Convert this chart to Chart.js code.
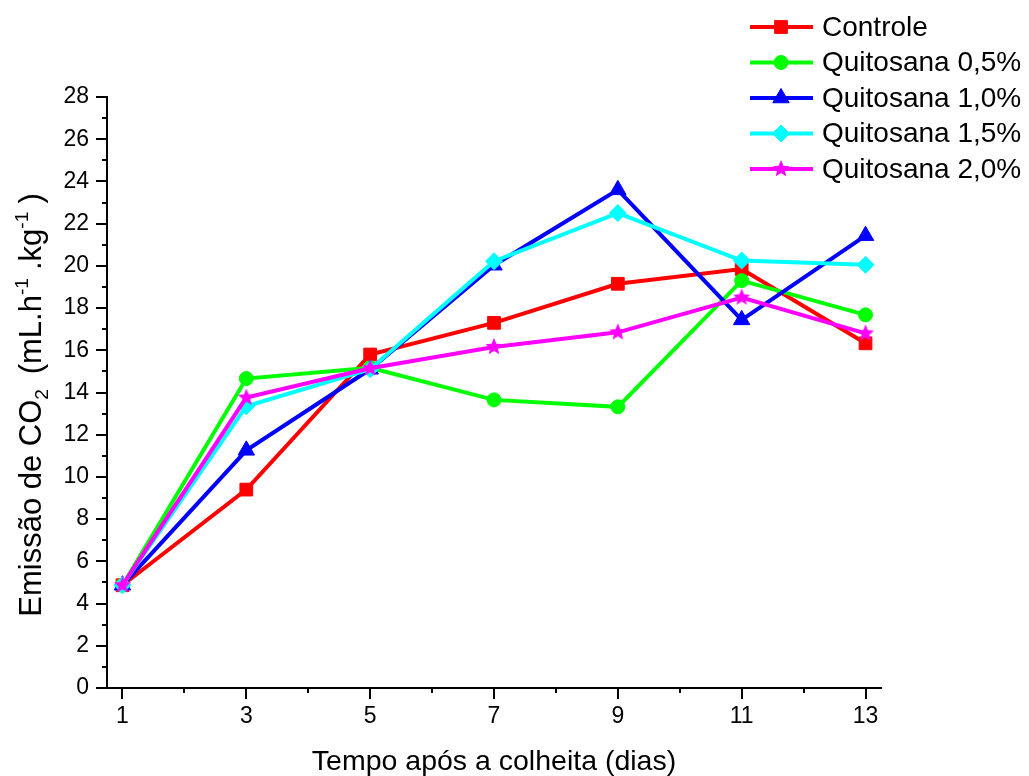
<!DOCTYPE html>
<html>
<head>
<meta charset="utf-8">
<title>Emissão de CO2</title>
<script src="https://cdn.jsdelivr.net/npm/chart.js@4.4.1/dist/chart.umd.min.js"></script>
<style>
  html, body { margin: 0; padding: 0; background: #fff; }
  #wrap { position: relative; width: 1029px; height: 776px; }
</style>
</head>
<body>
<div id="wrap"><canvas id="co2Chart"></canvas></div>
<script>
/* ===== DATA ===== */
const days = [1, 3, 5, 7, 9, 11, 13];

const controle = [4.87, 9.4, 15.8, 17.3, 19.15, 19.85, 16.33];
const quitosana05 = [4.87, 14.66, 15.17, 13.65, 13.32, 19.3, 17.68];
const quitosana10 = [4.87, 11.26, 15.1, 20.03, 23.6, 17.44, 21.43];
const quitosana15 = [4.87, 13.35, 15.1, 20.22, 22.5, 20.25, 20.05];
const quitosana20 = [4.87, 13.76, 15.15, 16.16, 16.85, 18.5, 16.8];

const xTicks = [1, 2, 3, 4, 5, 6, 7, 8, 9, 10, 11, 12, 13];
const xTickLabels = [1, 3, 5, 7, 9, 11, 13];
const yTicks = [0, 1, 2, 3, 4, 5, 6, 7, 8, 9, 10, 11, 12, 13, 14, 15, 16, 17, 18, 19, 20, 21, 22, 23, 24, 25, 26, 27, 28];
const yTickLabels = [0, 2, 4, 6, 8, 10, 12, 14, 16, 18, 20, 22, 24, 26, 28];

const FONT = "'Liberation Sans', Arial, sans-serif";

/* ===== STAR MARKER ===== */
function makeStar(color, outer, inner) {
    const c = document.createElement('canvas');
    const s = Math.ceil(outer * 2 + 2);
    c.width = s; c.height = s;
    const g = c.getContext('2d');
    g.translate(s / 2, s / 2);
    g.beginPath();
    for (let i = 0; i < 10; i++) {
        const r = i % 2 === 0 ? outer : inner;
        const a = -Math.PI / 2 + i * Math.PI / 5;
        g.lineTo(Math.cos(a) * r, Math.sin(a) * r);
    }
    g.closePath();
    g.fillStyle = color;
    g.fill();
    return c;
}
const starMagenta = makeStar('#ff00ff', 9, 4);

/* ===== SERIES ===== */
const series = [
    { label: 'Controle',       data: controle,    color: '#ff0000', style: 'rect',     radius: 9 },
    { label: 'Quitosana 0,5%', data: quitosana05, color: '#00ff00', style: 'circle',   radius: 7 },
    { label: 'Quitosana 1,0%', data: quitosana10, color: '#0000ff', style: 'triangle', radius: 9.5 },
    { label: 'Quitosana 1,5%', data: quitosana15, color: '#00ffff', style: 'rectRot',  radius: 8.5 },
    { label: 'Quitosana 2,0%', data: quitosana20, color: '#ff00ff', style: starMagenta, radius: 9 },
];

const datasets = series.map((s, i) => ({
    label: s.label,
    data: days.map((d, j) => ({ x: d, y: s.data[j] })),
    borderColor: s.color,
    backgroundColor: s.color,
    borderWidth: 4,
    pointStyle: s.style,
    pointRadius: s.radius,
    pointHoverRadius: s.radius,
    pointBorderWidth: 1,
    pointBackgroundColor: s.color,
    pointBorderColor: s.color,
    tension: 0,
    order: series.length - i   // later series drawn on top
}));

/* ===== TICK MARKS (major / minor) ===== */
const tickMarks = {
    id: 'tickMarks',
    afterDraw(chart) {
        const ctx = chart.ctx;
        const a = chart.chartArea;
        const xs = chart.scales.x, ys = chart.scales.y;
        ctx.save();
        ctx.strokeStyle = '#000';
        ctx.lineWidth = 2;
        ctx.beginPath();
        xTicks.forEach(v => {
            const px = Math.round(xs.getPixelForValue(v));
            const len = xTickLabels.includes(v) ? 11 : 5;
            ctx.moveTo(px, a.bottom);
            ctx.lineTo(px, a.bottom + len);
        });
        yTicks.forEach(v => {
            const py = Math.round(ys.getPixelForValue(v));
            const len = yTickLabels.includes(v) ? 11 : 5;
            ctx.moveTo(a.left, py);
            ctx.lineTo(a.left - len, py);
        });
        ctx.stroke();
        ctx.restore();
    }
};

/* ===== AXIS TITLES (with sub / superscripts) ===== */
function drawRich(ctx, parts, x, y, size) {
    parts.forEach(p => {
        const fs = p.s ? size * 0.62 : size;
        ctx.font = fs + 'px ' + FONT;
        const dy = p.s === 'sub' ? size * 0.22 : p.s === 'sup' ? -size * 0.42 : 0;
        ctx.fillText(p.t, x, y + dy);
        x += ctx.measureText(p.t).width + (p.gap || 0);
    });
}
function richWidth(ctx, parts, size) {
    let w = 0;
    parts.forEach(p => {
        ctx.font = (p.s ? size * 0.62 : size) + 'px ' + FONT;
        w += ctx.measureText(p.t).width + (p.gap || 0);
    });
    return w;
}

const yTitle = [
    { t: 'Emissão de CO' },
    { t: '2', s: 'sub', gap: 6 },
    { t: ' (mL.h' },
    { t: '-1', s: 'sup', gap: 8 },
    { t: '.kg' },
    { t: '-1', s: 'sup', gap: 8 },
    { t: ')' }
];

const axisTitles = {
    id: 'axisTitles',
    afterDraw(chart) {
        const ctx = chart.ctx;
        const a = chart.chartArea;
        ctx.save();
        ctx.fillStyle = '#000';
        ctx.textBaseline = 'alphabetic';
        ctx.textAlign = 'left';

        // x axis title
        ctx.font = '28.5px ' + FONT;
        const xt = 'Tempo após a colheita (dias)';
        const xw = ctx.measureText(xt).width;
        ctx.fillText(xt, (a.left + a.right) / 2 - xw / 2, 770);

        // y axis title, rotated
        const size = 31;
        const w = richWidth(ctx, yTitle, size);
        ctx.translate(41, 405);
        ctx.rotate(-Math.PI / 2);
        drawRich(ctx, yTitle, -w / 2, 0, size);
        ctx.restore();
    }
};

/* ===== LEGEND ===== */
const sideLegend = {
    id: 'sideLegend',
    afterDraw(chart) {
        const ctx = chart.ctx;
        ctx.save();
        series.forEach((s, i) => {
            const y = 27 + i * 35.5;
            ctx.strokeStyle = s.color;
            ctx.lineWidth = 4;
            ctx.beginPath();
            ctx.moveTo(750, y);
            ctx.lineTo(813, y);
            ctx.stroke();

            ctx.fillStyle = s.color;
            ctx.strokeStyle = s.color;
            ctx.lineWidth = 1;
            Chart.helpers.drawPoint(ctx, { pointStyle: s.style, radius: s.radius, borderWidth: 1, rotation: 0 }, 781, y);

            ctx.fillStyle = '#000';
            ctx.font = '28px ' + FONT;
            ctx.textBaseline = 'middle';
            ctx.textAlign = 'left';
            ctx.fillText(s.label, 822, y + 1);
        });
        ctx.restore();
    }
};

/* ===== CHART ===== */
const ctx = document.getElementById('co2Chart').getContext('2d');

const co2Chart = new Chart(ctx, {
    type: 'line',
    data: { datasets: datasets },
    options: {
        responsive: true,
        maintainAspectRatio: false,
        animation: false,
        events: [],
        layout: { padding: { top: 97, right: 148, left: 0, bottom: 0 } },
        plugins: {
            legend: { display: false },
            tooltip: { enabled: false },
            title: { display: false }
        },
        scales: {
            x: {
                type: 'linear',
                min: 0.75,
                max: 13.25,
                afterBuildTicks: s => { s.ticks = xTicks.map(v => ({ value: v })); },
                afterFit: s => { s.height = 88; },
                grid: { display: false, drawTicks: false },
                border: { display: true, color: '#000', width: 2 },
                ticks: {
                    autoSkip: false,
                    maxRotation: 0,
                    padding: 15,
                    color: '#000',
                    font: { family: FONT, size: 23 },
                    callback: v => xTickLabels.includes(v) ? String(v) : ''
                }
            },
            y: {
                type: 'linear',
                min: 0,
                max: 28,
                afterBuildTicks: s => { s.ticks = yTicks.map(v => ({ value: v })); },
                afterFit: s => { s.width = 107; },
                grid: { display: false, drawTicks: false },
                border: { display: true, color: '#000', width: 2 },
                ticks: {
                    autoSkip: false,
                    padding: 18,
                    color: '#000',
                    font: { family: FONT, size: 23 },
                    callback: v => yTickLabels.includes(v) ? String(v) : ''
                }
            }
        }
    },
    plugins: [tickMarks, axisTitles, sideLegend]
});
</script>
</body>
</html>
